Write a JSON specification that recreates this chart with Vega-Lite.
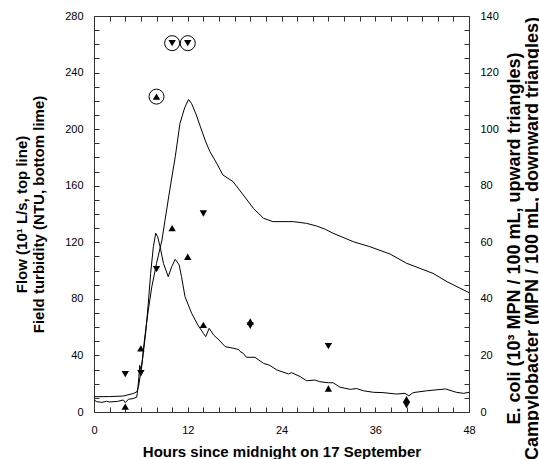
{
  "$schema": "https://vega.github.io/schema/vega-lite/v6.json",
  "width": 375,
  "height": 396,
  "autosize": {"type": "none"},
  "padding": {"left": 94, "top": 16, "right": 70, "bottom": 47},
  "config": {
    "font": "Liberation Sans",
    "view": {"stroke": "#333", "strokeWidth": 1},
    "axis": {
      "domain": false,
      "grid": false,
      "offset": -5,
      "zindex": 1,
      "labelFont": "Liberation Sans",
      "labelFontSize": 11,
      "labelColor": "#000",
      "titleFont": "Liberation Sans",
      "titleFontSize": 15,
      "titleFontWeight": "bold",
      "titleColor": "#000",
      "titleLineHeight": 17
    }
  },
  "datasets": {
    "series": [
      {"series": "flow", "hours": 0, "value": 10.8},
      {"series": "flow", "hours": 2, "value": 10.9},
      {"series": "flow", "hours": 3.75, "value": 11.3},
      {"series": "flow", "hours": 5.1, "value": 13.2},
      {"series": "flow", "hours": 5.5, "value": 14.4},
      {"series": "flow", "hours": 5.7, "value": 17.9},
      {"series": "flow", "hours": 6.1, "value": 32},
      {"series": "flow", "hours": 6.5, "value": 53},
      {"series": "flow", "hours": 6.95, "value": 72},
      {"series": "flow", "hours": 7.4, "value": 88.6},
      {"series": "flow", "hours": 8.0, "value": 105},
      {"series": "flow", "hours": 8.7, "value": 121.6},
      {"series": "flow", "hours": 9.1, "value": 136},
      {"series": "flow", "hours": 9.7, "value": 157},
      {"series": "flow", "hours": 10.4, "value": 180.5},
      {"series": "flow", "hours": 11.0, "value": 204},
      {"series": "flow", "hours": 11.6, "value": 215},
      {"series": "flow", "hours": 12.1, "value": 221},
      {"series": "flow", "hours": 12.5, "value": 218},
      {"series": "flow", "hours": 13.1, "value": 210},
      {"series": "flow", "hours": 13.6, "value": 202},
      {"series": "flow", "hours": 14.3, "value": 191},
      {"series": "flow", "hours": 14.85, "value": 184},
      {"series": "flow", "hours": 15.7, "value": 175.9},
      {"series": "flow", "hours": 16.5, "value": 167.6},
      {"series": "flow", "hours": 17.8, "value": 162.9},
      {"series": "flow", "hours": 19.1, "value": 153.5},
      {"series": "flow", "hours": 20.4, "value": 144},
      {"series": "flow", "hours": 21.7, "value": 137},
      {"series": "flow", "hours": 22.9, "value": 134.6},
      {"series": "flow", "hours": 25.5, "value": 134.6},
      {"series": "flow", "hours": 27.2, "value": 133.4},
      {"series": "flow", "hours": 28.5, "value": 131.5},
      {"series": "flow", "hours": 29.6, "value": 129.2},
      {"series": "flow", "hours": 30.6, "value": 126.4},
      {"series": "flow", "hours": 33.2, "value": 120.4},
      {"series": "flow", "hours": 35.3, "value": 116.9},
      {"series": "flow", "hours": 37.9, "value": 111.7},
      {"series": "flow", "hours": 40.0, "value": 105.2},
      {"series": "flow", "hours": 41.7, "value": 101.6},
      {"series": "flow", "hours": 43.4, "value": 98},
      {"series": "flow", "hours": 45.2, "value": 92.1},
      {"series": "flow", "hours": 48, "value": 84.4},
      {"series": "turbidity", "hours": 0, "value": 8.5},
      {"series": "turbidity", "hours": 0.35, "value": 7.3},
      {"series": "turbidity", "hours": 1, "value": 6.8},
      {"series": "turbidity", "hours": 1.6, "value": 7.6},
      {"series": "turbidity", "hours": 2, "value": 7.1},
      {"series": "turbidity", "hours": 3, "value": 7.5},
      {"series": "turbidity", "hours": 3.75, "value": 8.5},
      {"series": "turbidity", "hours": 4.0, "value": 6.6},
      {"series": "turbidity", "hours": 4.4, "value": 9},
      {"series": "turbidity", "hours": 5.0, "value": 9.5},
      {"series": "turbidity", "hours": 5.45, "value": 10.4},
      {"series": "turbidity", "hours": 5.55, "value": 13.2},
      {"series": "turbidity", "hours": 5.75, "value": 25},
      {"series": "turbidity", "hours": 5.85, "value": 33},
      {"series": "turbidity", "hours": 6.0, "value": 30},
      {"series": "turbidity", "hours": 6.2, "value": 36.8},
      {"series": "turbidity", "hours": 6.6, "value": 55},
      {"series": "turbidity", "hours": 6.95, "value": 77},
      {"series": "turbidity", "hours": 7.25, "value": 98},
      {"series": "turbidity", "hours": 7.6, "value": 117},
      {"series": "turbidity", "hours": 7.9, "value": 126.4},
      {"series": "turbidity", "hours": 8.15, "value": 124},
      {"series": "turbidity", "hours": 8.45, "value": 117},
      {"series": "turbidity", "hours": 8.9, "value": 105},
      {"series": "turbidity", "hours": 9.5, "value": 95.7},
      {"series": "turbidity", "hours": 9.95, "value": 102.8},
      {"series": "turbidity", "hours": 10.4, "value": 108},
      {"series": "turbidity", "hours": 10.9, "value": 104},
      {"series": "turbidity", "hours": 11.2, "value": 95.7},
      {"series": "turbidity", "hours": 11.65, "value": 81.5},
      {"series": "turbidity", "hours": 12.5, "value": 69.8},
      {"series": "turbidity", "hours": 13.3, "value": 61.5},
      {"series": "turbidity", "hours": 14.0, "value": 55.6},
      {"series": "turbidity", "hours": 14.3, "value": 53.3},
      {"series": "turbidity", "hours": 14.75, "value": 59.2},
      {"series": "turbidity", "hours": 15.3, "value": 54.5},
      {"series": "turbidity", "hours": 16.0, "value": 50.9},
      {"series": "turbidity", "hours": 16.8, "value": 46.2},
      {"series": "turbidity", "hours": 17.9, "value": 45},
      {"series": "turbidity", "hours": 18.5, "value": 44.2},
      {"series": "turbidity", "hours": 18.7, "value": 42.8},
      {"series": "turbidity", "hours": 19.1, "value": 41.5},
      {"series": "turbidity", "hours": 19.5, "value": 38.7},
      {"series": "turbidity", "hours": 20.6, "value": 38.7},
      {"series": "turbidity", "hours": 21.7, "value": 34.4},
      {"series": "turbidity", "hours": 22.5, "value": 33},
      {"series": "turbidity", "hours": 23.4, "value": 29.7},
      {"series": "turbidity", "hours": 24.9, "value": 26.9},
      {"series": "turbidity", "hours": 25.3, "value": 27.8},
      {"series": "turbidity", "hours": 26.4, "value": 25},
      {"series": "turbidity", "hours": 27.2, "value": 22.1},
      {"series": "turbidity", "hours": 28.3, "value": 22.6},
      {"series": "turbidity", "hours": 28.9, "value": 21.4},
      {"series": "turbidity", "hours": 30.0, "value": 20.7},
      {"series": "turbidity", "hours": 30.6, "value": 20.7},
      {"series": "turbidity", "hours": 31.5, "value": 17.5},
      {"series": "turbidity", "hours": 32.8, "value": 16},
      {"series": "turbidity", "hours": 33.6, "value": 16.6},
      {"series": "turbidity", "hours": 34.5, "value": 15},
      {"series": "turbidity", "hours": 35.8, "value": 13.9},
      {"series": "turbidity", "hours": 37.0, "value": 13.7},
      {"series": "turbidity", "hours": 38.7, "value": 12.7},
      {"series": "turbidity", "hours": 39.8, "value": 13.2},
      {"series": "turbidity", "hours": 40.3, "value": 11.5},
      {"series": "turbidity", "hours": 40.8, "value": 13.5},
      {"series": "turbidity", "hours": 41.1, "value": 13.9},
      {"series": "turbidity", "hours": 42.6, "value": 15},
      {"series": "turbidity", "hours": 45, "value": 16.3},
      {"series": "turbidity", "hours": 46.4, "value": 13.9},
      {"series": "turbidity", "hours": 47.3, "value": 13.2},
      {"series": "turbidity", "hours": 48, "value": 13.9}
    ],
    "samples": [
      {"organism": "E. coli", "hours": 4, "count": 1.9, "censored": false},
      {"organism": "E. coli", "hours": 6, "count": 22.5, "censored": false},
      {"organism": "E. coli", "hours": 8, "count": 111.5, "censored": true},
      {"organism": "E. coli", "hours": 10, "count": 65, "censored": false},
      {"organism": "E. coli", "hours": 12, "count": 54.9, "censored": false},
      {"organism": "E. coli", "hours": 14, "count": 30.8, "censored": false},
      {"organism": "E. coli", "hours": 20, "count": 32, "censored": false},
      {"organism": "E. coli", "hours": 30, "count": 8.3, "censored": false},
      {"organism": "E. coli", "hours": 40, "count": 4.5, "censored": false},
      {"organism": "Campylobacter", "hours": 4, "count": 13.4, "censored": false},
      {"organism": "Campylobacter", "hours": 6, "count": 13.7, "censored": false},
      {"organism": "Campylobacter", "hours": 8, "count": 50.5, "censored": false},
      {"organism": "Campylobacter", "hours": 10, "count": 130.4, "censored": true},
      {"organism": "Campylobacter", "hours": 12, "count": 130.4, "censored": true},
      {"organism": "Campylobacter", "hours": 14, "count": 70.2, "censored": false},
      {"organism": "Campylobacter", "hours": 20, "count": 30.5, "censored": false},
      {"organism": "Campylobacter", "hours": 30, "count": 23.3, "censored": false},
      {"organism": "Campylobacter", "hours": 40, "count": 2.5, "censored": false}
    ]
  },
  "layer": [
    {
      "data": {"name": "series"},
      "mark": {"type": "line", "color": "#000", "strokeWidth": 1},
      "encoding": {
        "x": {
          "field": "hours", "type": "quantitative",
          "scale": {"domain": [0, 48], "nice": false, "zero": false},
          "axis": {
            "orient": "bottom",
            "tickCount": 24,
            "ticks": true,
            "tickColor": "#333",
            "tickWidth": 1,
            "tickSize": 5,
            "labelExpr": "datum.value % 12 === 0 ? datum.label : ''",
            "labelPadding": 12,
            "labelFlush": false,
            "title": "Hours since midnight on 17 September",
            "titlePadding": 9
          }
        },
        "y": {
          "field": "value", "type": "quantitative",
          "scale": {"domain": [0, 280], "nice": false},
          "axis": {
            "orient": "left",
            "tickCount": 28,
            "ticks": true,
            "tickColor": "#333",
            "tickWidth": 1,
            "tickSize": 5,
            "labelExpr": "datum.value % 40 === 0 ? datum.label : ''",
            "labelPadding": 11,
            "labelFlush": false,
            "title": ["Flow (10¹ L/s, top line)", "Field turbidity (NTU, bottom lime)"],
            "titlePadding": 18
          }
        },
        "detail": {"field": "series", "type": "nominal"}
      }
    },
    {
      "data": {"name": "samples"},
      "encoding": {
        "x": {
          "field": "hours", "type": "quantitative",
          "scale": {"domain": [0, 48], "nice": false, "zero": false},
          "axis": {
            "orient": "top",
            "tickCount": 24,
            "ticks": true,
            "tickColor": "#333",
            "tickWidth": 1,
            "tickSize": 5,
            "labels": false,
            "title": null
          }
        },
        "y": {
          "field": "count", "type": "quantitative",
          "scale": {"domain": [0, 140], "nice": false},
          "axis": {
            "orient": "right",
            "tickCount": 28,
            "ticks": true,
            "tickColor": "#333",
            "tickWidth": 1,
            "tickSize": 5,
            "labelExpr": "datum.value % 20 === 0 ? datum.label : ''",
            "labelPadding": 11,
            "labelFlush": false,
            "title": ["E. coli (10³ MPN / 100 mL, upward triangles)", "Campylobacter (MPN / 100 mL, downward triangles)"],
            "titleAngle": 270,
            "titleBaseline": "top",
            "titleFontSize": 18,
            "titleLineHeight": 18,
            "titleY": 222,
            "titlePadding": -11
          }
        }
      },
      "layer": [
        {
          "mark": {"type": "point", "filled": true, "color": "#000", "opacity": 1, "size": 55, "strokeWidth": 0},
          "encoding": {
            "shape": {
              "field": "organism", "type": "nominal",
              "scale": {"domain": ["E. coli", "Campylobacter"], "range": ["triangle-up", "triangle-down"]},
              "legend": null
            }
          }
        },
        {
          "transform": [{"filter": "datum.censored"}],
          "mark": {"type": "point", "shape": "circle", "filled": false, "color": "#000", "opacity": 1, "size": 225, "strokeWidth": 1}
        }
      ]
    }
  ],
  "resolve": {"scale": {"x": "independent", "y": "independent"}}
}
